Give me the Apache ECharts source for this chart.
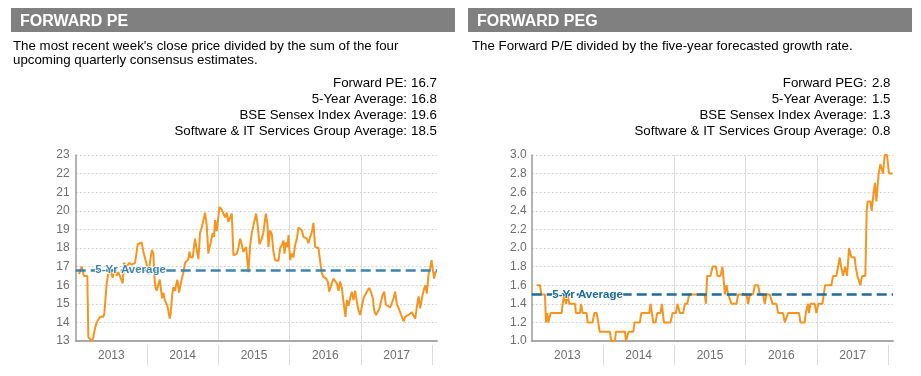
<!DOCTYPE html>
<html>
<head>
<meta charset="utf-8">
<title>Forward PE / Forward PEG</title>
<style>
  html, body { margin: 0; padding: 0; background: #fff; }
  #chart { width: 921px; height: 376px; }
</style>
<script src="https://cdn.jsdelivr.net/npm/echarts@6.0.0/dist/echarts.min.js"></script>
</head>
<body>
<div id="chart"></div>
<script>
// year labels on the x axis
var years = ['2013', '2014', '2015', '2016', '2017'];

var peStatLabels = ['Forward PE:', '5-Year Average:', 'BSE Sensex Index Average:', 'Software & IT Services Group Average:'];
var peStatValues = ['16.7', '16.8', '19.6', '18.5'];
var pegStatLabels = ['Forward PEG:', '5-Year Average:', 'BSE Sensex Index Average:', 'Software & IT Services Group Average:'];
var pegStatValues = ['2.8', '1.5', '1.3', '0.8'];

// [decimal year, forward PE]
var forwardPe = [
    [2013.046, 16.6], [2013.084, 17.0], [2013.116, 16.5], [2013.144, 16.4], [2013.163, 16.5], [2013.177, 13.2],
    [2013.201, 13.3], [2013.224, 13.0], [2013.247, 13.2], [2013.271, 13.7], [2013.294, 14.0], [2013.308, 13.9],
    [2013.322, 14.0], [2013.341, 14.3], [2013.364, 14.2], [2013.388, 14.3], [2013.402, 14.5], [2013.416, 14.4],
    [2013.434, 16.1], [2013.458, 16.6], [2013.481, 16.8], [2013.519, 16.4], [2013.551, 17.0], [2013.575, 16.5],
    [2013.598, 16.7], [2013.621, 16.8], [2013.659, 16.1], [2013.677, 17.2], [2013.715, 17.0], [2013.752, 17.2],
    [2013.785, 17.1], [2013.832, 17.2], [2013.846, 17.1], [2013.869, 18.2], [2013.925, 18.3], [2013.949, 17.8],
    [2013.977, 17.8], [2013.995, 17.1], [2014.019, 16.6], [2014.051, 17.5], [2014.070, 17.9], [2014.089, 17.7],
    [2014.103, 16.5], [2014.117, 15.9], [2014.136, 15.7], [2014.159, 15.6], [2014.178, 16.3], [2014.192, 15.9],
    [2014.210, 15.3], [2014.229, 15.6], [2014.248, 15.2], [2014.267, 15.3], [2014.285, 14.9], [2014.318, 14.2],
    [2014.332, 14.5], [2014.351, 15.4], [2014.369, 15.9], [2014.393, 15.7], [2014.407, 16.0], [2014.425, 16.3],
    [2014.449, 15.6], [2014.467, 16.0], [2014.491, 15.9], [2014.510, 16.7], [2014.533, 17.2], [2014.556, 17.2],
    [2014.580, 17.4], [2014.594, 17.8], [2014.612, 17.5], [2014.641, 17.5], [2014.673, 18.5], [2014.697, 17.9],
    [2014.720, 17.4], [2014.743, 18.8], [2014.767, 19.1], [2014.781, 19.2], [2014.814, 19.9], [2014.837, 19.2],
    [2014.860, 17.7], [2014.874, 18.0], [2014.893, 18.3], [2014.921, 18.8], [2014.940, 18.6], [2014.954, 19.5],
    [2014.977, 18.9], [2015.014, 20.2], [2015.043, 20.1], [2015.071, 20.0], [2015.094, 19.65], [2015.118, 19.9],
    [2015.141, 19.4], [2015.164, 19.3], [2015.188, 19.85], [2015.211, 17.6], [2015.234, 17.5], [2015.258, 17.7],
    [2015.281, 18.0], [2015.305, 18.5], [2015.328, 18.2], [2015.351, 17.8], [2015.389, 18.05], [2015.421, 16.7],
    [2015.445, 18.1], [2015.468, 18.8], [2015.492, 18.7], [2015.529, 19.85], [2015.552, 19.2], [2015.576, 18.2],
    [2015.609, 18.5], [2015.632, 18.85], [2015.665, 19.85], [2015.688, 19.3], [2015.702, 18.05], [2015.725, 18.95],
    [2015.749, 18.75], [2015.772, 17.8], [2015.796, 17.35], [2015.819, 17.45], [2015.842, 17.3], [2015.866, 18.0],
    [2015.889, 18.15], [2015.913, 18.4], [2015.927, 17.7], [2015.945, 18.3], [2015.969, 18.05], [2015.983, 18.7],
    [2016.006, 17.35], [2016.029, 17.7], [2016.053, 17.5], [2016.076, 18.15], [2016.100, 18.5], [2016.123, 19.1],
    [2016.146, 19.2], [2016.170, 18.95], [2016.193, 18.6], [2016.216, 18.7], [2016.240, 18.5], [2016.263, 18.25],
    [2016.287, 18.6], [2016.310, 18.85], [2016.333, 19.35], [2016.357, 18.05], [2016.380, 18.15], [2016.403, 18.0],
    [2016.427, 17.3], [2016.450, 16.65], [2016.474, 16.45], [2016.511, 16.35], [2016.534, 16.2], [2016.553, 15.65],
    [2016.581, 16.0], [2016.614, 16.35], [2016.637, 16.45], [2016.661, 16.1], [2016.684, 15.7], [2016.707, 16.2],
    [2016.731, 15.85], [2016.754, 15.1], [2016.782, 14.3], [2016.801, 15.2], [2016.824, 14.9], [2016.848, 15.3],
    [2016.871, 15.65], [2016.894, 15.2], [2016.918, 15.7], [2016.941, 15.1], [2016.965, 14.65], [2016.988, 14.4],
    [2017.011, 14.3], [2017.035, 15.3], [2017.058, 15.4], [2017.081, 15.65], [2017.114, 15.85], [2017.137, 15.65],
    [2017.166, 15.3], [2017.184, 14.65], [2017.208, 14.4], [2017.231, 14.55], [2017.259, 14.75], [2017.278, 15.1],
    [2017.301, 15.45], [2017.325, 15.65], [2017.348, 14.95], [2017.371, 14.85], [2017.409, 14.8], [2017.432, 14.85],
    [2017.456, 15.3], [2017.479, 15.65], [2017.502, 15.0], [2017.526, 15.1], [2017.549, 14.55], [2017.572, 14.45],
    [2017.596, 14.05], [2017.619, 14.3], [2017.643, 14.25], [2017.666, 14.4], [2017.689, 14.35], [2017.713, 14.55],
    [2017.736, 14.65], [2017.760, 14.2], [2017.783, 14.85], [2017.806, 15.4], [2017.830, 14.75], [2017.853, 15.3],
    [2017.877, 15.7], [2017.900, 16.0], [2017.923, 15.55], [2017.947, 16.6], [2017.970, 16.95], [2017.989, 17.35],
    [2018.007, 16.8], [2018.026, 16.35], [2018.040, 16.7], [2018.063, 16.7]
];

// [decimal year, forward PEG]
var forwardPeg = [
    [2013.070, 1.6], [2013.116, 1.6], [2013.135, 1.5], [2013.186, 1.5], [2013.200, 1.2], [2013.219, 1.3],
    [2013.233, 1.2], [2013.266, 1.3], [2013.420, 1.3], [2013.434, 1.4], [2013.457, 1.5], [2013.480, 1.4],
    [2013.504, 1.5], [2013.527, 1.4], [2013.607, 1.4], [2013.621, 1.3], [2013.677, 1.3], [2013.691, 1.4],
    [2013.714, 1.3], [2013.770, 1.3], [2013.784, 1.2], [2013.854, 1.2], [2013.877, 1.3], [2013.910, 1.3],
    [2013.933, 1.2], [2013.952, 1.1], [2014.097, 1.1], [2014.115, 1.0], [2014.167, 1.0], [2014.181, 1.1],
    [2014.307, 1.1], [2014.321, 1.0], [2014.340, 1.0], [2014.358, 1.1], [2014.424, 1.1], [2014.442, 1.2],
    [2014.517, 1.2], [2014.536, 1.3], [2014.648, 1.3], [2014.666, 1.4], [2014.704, 1.2], [2014.736, 1.2],
    [2014.760, 1.3], [2014.806, 1.3], [2014.825, 1.4], [2014.853, 1.2], [2014.946, 1.2], [2014.974, 1.3],
    [2015.021, 1.3], [2015.044, 1.4], [2015.054, 1.4], [2015.077, 1.3], [2015.124, 1.3], [2015.147, 1.4],
    [2015.180, 1.4], [2015.208, 1.5], [2015.427, 1.5], [2015.441, 1.4], [2015.460, 1.7], [2015.507, 1.7],
    [2015.535, 1.8], [2015.582, 1.8], [2015.605, 1.7], [2015.647, 1.7], [2015.675, 1.8], [2015.708, 1.5],
    [2015.731, 1.6], [2015.754, 1.5], [2015.801, 1.4], [2015.871, 1.4], [2015.894, 1.5], [2016.011, 1.5],
    [2016.034, 1.4], [2016.058, 1.5], [2016.104, 1.5], [2016.128, 1.6], [2016.174, 1.6], [2016.198, 1.5],
    [2016.244, 1.5], [2016.268, 1.4], [2016.291, 1.5], [2016.338, 1.5], [2016.375, 1.4], [2016.431, 1.4],
    [2016.454, 1.3], [2016.524, 1.3], [2016.548, 1.2], [2016.571, 1.2], [2016.594, 1.3], [2016.748, 1.3],
    [2016.767, 1.2], [2016.828, 1.2], [2016.842, 1.3], [2016.860, 1.3], [2016.874, 1.4], [2016.888, 1.3],
    [2016.907, 1.4], [2016.968, 1.4], [2016.991, 1.3], [2017.019, 1.4], [2017.075, 1.4], [2017.094, 1.5],
    [2017.113, 1.6], [2017.201, 1.6], [2017.225, 1.7], [2017.271, 1.7], [2017.295, 1.8], [2017.318, 1.9],
    [2017.337, 1.8], [2017.365, 1.7], [2017.393, 1.8], [2017.421, 1.7], [2017.449, 2.0], [2017.481, 1.9],
    [2017.528, 1.9], [2017.542, 1.8], [2017.565, 1.7], [2017.589, 1.7], [2017.607, 1.6], [2017.631, 1.7],
    [2017.677, 1.7], [2017.696, 2.4], [2017.710, 2.5], [2017.748, 2.5], [2017.766, 2.4], [2017.794, 2.6],
    [2017.813, 2.7], [2017.832, 2.5], [2017.864, 2.8], [2017.888, 2.9], [2017.911, 2.9], [2017.925, 2.8],
    [2017.948, 3.0], [2017.981, 3.0], [2018.009, 2.8], [2018.060, 2.8]
];

var FONT = '"Liberation Sans", Arial, Helvetica, sans-serif';
var ORANGE = '#f5951f';
var GRID_LINE = '#dcdcdc';
var AXIS_LINE = '#a8a8a8';
var LABEL_GREY = '#6e6e6e';

var tickYears = [2014, 2015, 2016, 2017, 2018];
var labelPos = years.map(function (y) { return +y + 0.5; });

function mainXAxis(g) {
    return {
        type: 'value', gridIndex: g, min: 2013, max: 2018.065, interval: 1,
        axisLine: { show: true, lineStyle: { color: AXIS_LINE, width: 2 } },
        axisTick: { show: false, customValues: tickYears },
        axisLabel: {
            customValues: labelPos,
            formatter: function (v) { return String(Math.floor(v)); },
            color: LABEL_GREY, fontSize: 12, fontFamily: FONT, margin: 9
        },
        splitLine: { show: true, showMinLine: false, showMaxLine: false, lineStyle: { color: GRID_LINE, width: 1 } }
    };
}

// separate axis only for the year separators that hang below the axis line
function tickXAxis(g) {
    return {
        type: 'value', gridIndex: g, min: 2013, max: 2018.065, interval: 1,
        position: 'bottom', offset: 4,
        axisLine: { show: false },
        axisTick: { show: true, length: 20, customValues: tickYears, lineStyle: { color: GRID_LINE, width: 1 } },
        axisLabel: { show: false },
        splitLine: { show: false }
    };
}

function yAxisOf(g, min, max, step, digits, margin) {
    return {
        type: 'value', gridIndex: g, min: min, max: max, interval: step,
        axisLine: { show: true, lineStyle: { color: '#9a9a9a', width: 1.5 } },
        axisTick: { show: false },
        axisLabel: {
            color: LABEL_GREY, fontSize: 12, fontFamily: FONT, margin: margin,
            formatter: function (v) { return v.toFixed(digits); }
        },
        splitLine: { lineStyle: { type: [2, 2], color: '#d2d2d2', width: 1 } }
    };
}

function lineSeries(axis, data) {
    return {
        type: 'line', xAxisIndex: axis, yAxisIndex: axis, data: data, z: 2,
        symbol: 'none', showSymbol: false, animation: false, silent: true,
        lineStyle: { color: ORANGE, width: 2 }
    };
}

// dashed 5-year average with its label, drawn above the data line
function averageSeries(axis, avg, avgColor, labelYear) {
    return {
        type: 'line', xAxisIndex: axis, yAxisIndex: axis, data: [], z: 5,
        silent: true, animation: false,
        markLine: {
            silent: true, symbol: 'none', animation: false,
            lineStyle: { color: avgColor, type: [10, 5], width: 2.5 },
            label: { show: false },
            data: [{ yAxis: avg }]
        },
        markPoint: {
            silent: true, symbol: 'circle', symbolSize: 0, animation: false,
            label: {
                show: true, position: 'inside', formatter: '5-Yr Average',
                color: avgColor, fontWeight: 'bold', fontSize: 11.5, fontFamily: FONT,
                textBorderColor: '#ffffff', textBorderWidth: 1.5
            },
            data: [{ coord: [labelYear, avg] }]
        }
    };
}

function panelGraphics(left, width, title, titleX, desc, descX, labels, values, labelRight, valueLeft) {
    var items = [
        { type: 'rect', shape: { x: left, y: 8, width: width, height: 24 }, style: { fill: '#808080' } },
        { type: 'text', x: titleX, y: 21.5, style: { text: title, fill: '#ffffff', fontSize: 16, fontWeight: 'bold', fontFamily: FONT, verticalAlign: 'middle' } },
        { type: 'text', x: descX, y: 40, style: { text: desc, fill: '#000000', fontSize: 13.3, fontFamily: FONT, lineHeight: 13.5, verticalAlign: 'top' } }
    ];
    labels.forEach(function (lab, i) {
        var y = 83.5 + i * 15.9;
        items.push({ type: 'text', x: labelRight, y: y, style: { text: lab, fill: '#000', fontSize: 13.3, fontFamily: FONT, align: 'right', verticalAlign: 'middle' } });
        items.push({ type: 'text', x: valueLeft, y: y, style: { text: values[i], fill: '#000', fontSize: 13.3, fontFamily: FONT, align: 'left', verticalAlign: 'middle' } });
    });
    return items;
}

var graphics = [].concat(
    panelGraphics(11, 444, 'FORWARD PE', 20,
        'The most recent week\'s close price divided by the sum of the four\nupcoming quarterly consensus estimates.', 13,
        peStatLabels, peStatValues, 407, 411),
    panelGraphics(468, 444, 'FORWARD PEG', 477,
        'The Forward P/E divided by the five-year forecasted growth rate.', 472,
        pegStatLabels, pegStatValues, 867, 872)
);

var option = {
    backgroundColor: '#ffffff',
    animation: false,
    textStyle: { fontFamily: FONT },
    grid: [
        { left: 75.7, top: 155, width: 361.3, height: 186 },
        { left: 531.7, top: 155, width: 361.3, height: 186 }
    ],
    xAxis: [mainXAxis(0), mainXAxis(1), tickXAxis(0), tickXAxis(1)],
    yAxis: [yAxisOf(0, 13, 23, 1, 0, 6), yAxisOf(1, 1, 3, 0.2, 1, 5)],
    graphic: graphics,
    series: [
        lineSeries(0, forwardPe),
        lineSeries(1, forwardPeg),
        averageSeries(0, +peStatValues[1], '#3f84ad', 2013.77),
        averageSeries(1, +pegStatValues[1], '#1f6b99', 2013.784)
    ]
};

var myChart = echarts.init(document.getElementById('chart'));
myChart.setOption(option);
</script>
</body>
</html>
